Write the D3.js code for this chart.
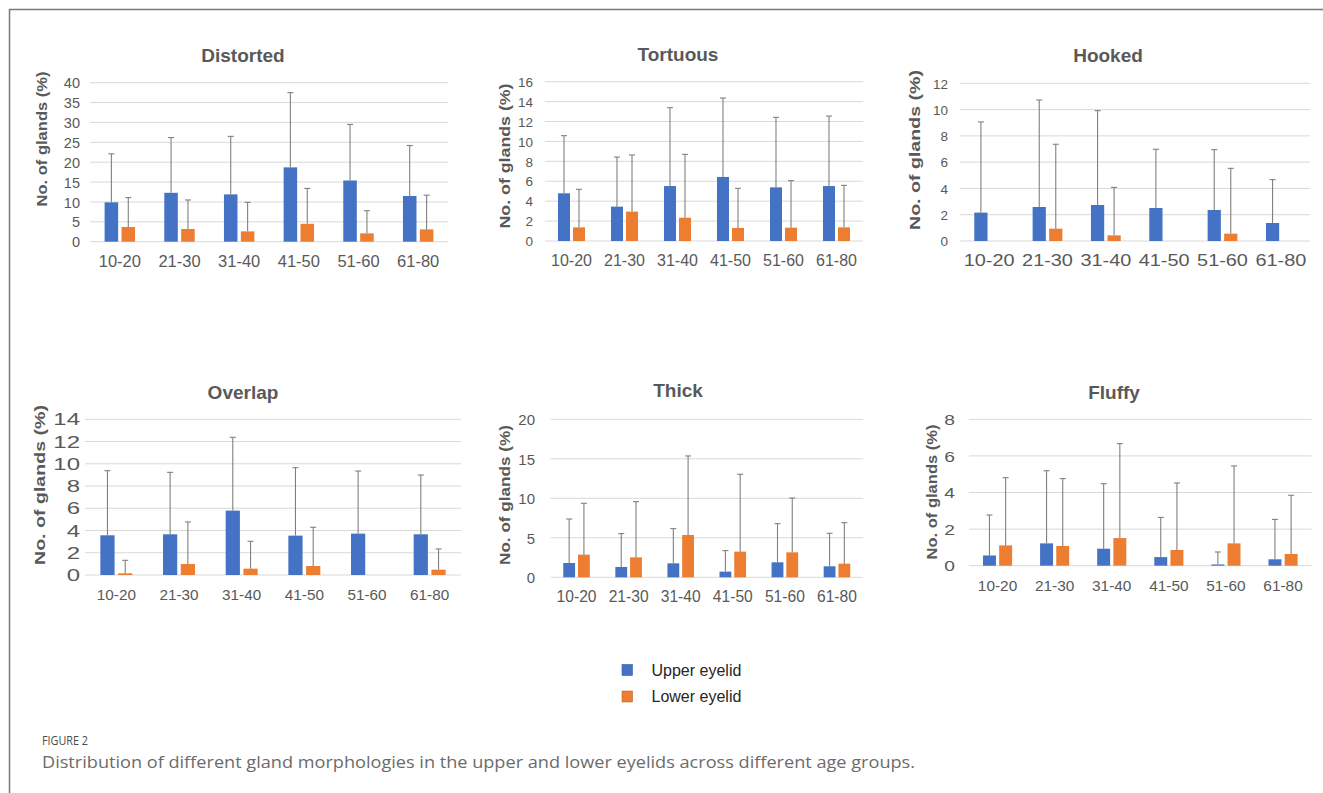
<!DOCTYPE html>
<html>
<head>
<meta charset="utf-8">
<script src="https://cdn.jsdelivr.net/npm/d3@7"></script>
<style>
  body { margin: 0; background: #fff; }
  svg text { font-family: "Liberation Sans", Arial, sans-serif; }
  svg text.caption { font-family: "Open Sans", "Liberation Sans", sans-serif; }
</style>
</head>
<body>
<svg width="1323" height="793"></svg>
<script>
const ageGroups = ["10-20", "21-30", "31-40", "41-50", "51-60", "61-80"];
const morphologies = ["Distorted", "Tortuous", "Hooked", "Overlap", "Thick", "Fluffy"];
const seriesNames = ["Upper eyelid", "Lower eyelid"];
const seriesColors = ["#4472C4", "#ED7D31"];

// one row per morphology, one value per age group (% of glands)
const upperMean = [
  [9.9, 12.3, 11.9, 18.7, 15.4, 11.5],
  [4.79, 3.45, 5.52, 6.43, 5.39, 5.52],
  [2.16, 2.59, 2.74, 2.51, 2.36, 1.37],
  [3.57, 3.66, 5.79, 3.54, 3.72, 3.66],
  [1.81, 1.31, 1.77, 0.72, 1.90, 1.39],
  [0.56, 1.22, 0.93, 0.47, 0.07, 0.35]
];
const upperSD = [
  [12.2, 13.9, 14.6, 18.8, 14.1, 12.7],
  [5.79, 4.98, 7.87, 7.93, 7.03, 7.03],
  [6.90, 8.14, 7.18, 4.47, 4.59, 3.30],
  [5.81, 5.57, 6.59, 6.11, 5.63, 5.33],
  [5.57, 4.22, 4.39, 2.66, 4.89, 4.18],
  [2.21, 3.97, 3.55, 2.17, 0.68, 2.18]
];
const lowerMean = [
  [3.7, 3.2, 2.6, 4.5, 2.1, 3.1],
  [1.37, 2.95, 2.34, 1.31, 1.34, 1.37],
  [0, 0.94, 0.43, 0, 0.56, 0],
  [0.15, 0.99, 0.57, 0.81, 0, 0.48],
  [2.87, 2.53, 5.36, 3.25, 3.16, 1.73],
  [1.11, 1.08, 1.51, 0.86, 1.22, 0.64]
];
const lowerSD = [
  [7.4, 7.3, 7.3, 8.9, 5.7, 8.6],
  [3.82, 5.69, 6.36, 3.98, 4.72, 4.22],
  [0, 6.42, 3.65, 0, 4.97, 0],
  [1.17, 3.78, 2.46, 3.48, 0, 1.86],
  [6.50, 7.05, 10.00, 9.79, 6.88, 5.19],
  [3.70, 3.68, 5.16, 3.66, 4.23, 3.21]
];
const yMax = [40, 16, 12, 14, 20, 8];
const yStep = [5, 2, 2, 2, 5, 2];

// where each small chart sits on the page
const panels = [
  { left: 90, right: 448, top: 82.7, bottom: 241.7, titleX: 243, titleY: 55, labX: 42, labY: 139, labLen: 135, tickRight: 80, tickFont: 14.5, tickSx: 1.0, catFont: 16.5, catSx: 1.0 },
  { left: 545, right: 863, top: 81.7, bottom: 241, titleX: 678, titleY: 54, labX: 505, labY: 156, labLen: 145, tickRight: 533, tickFont: 13.5, tickSx: 1.0, catFont: 16, catSx: 1.0 },
  { left: 960, right: 1310, top: 83.3, bottom: 241, titleX: 1108, titleY: 55, labX: 915, labY: 150, labLen: 160, tickRight: 948, tickFont: 13.5, tickSx: 1.0, catFont: 17, catSx: 1.17 },
  { left: 85, right: 461, top: 419.3, bottom: 575, titleX: 243, titleY: 392, labX: 40, labY: 485, labLen: 160, tickRight: 80, tickFont: 16, tickSx: 1.5, catFont: 15.3, catSx: 1.0 },
  { left: 550.5, right: 863, top: 419.3, bottom: 577.3, titleX: 678, titleY: 390, labX: 505, labY: 495, labLen: 140, tickRight: 535, tickFont: 15, tickSx: 1.0, catFont: 15.6, catSx: 1.0 },
  { left: 969, right: 1311.6, top: 419.3, bottom: 565.7, titleX: 1114, titleY: 392, labX: 932, labY: 492, labLen: 135, tickRight: 955, tickFont: 15, tickSx: 1.28, catFont: 15.4, catSx: 1.0 }
];

const textColor = "#595959";
const svg = d3.select("svg");

// page frame
svg.append("line").attr("x1", 9).attr("x2", 1323).attr("y1", 9.5).attr("y2", 9.5)
  .attr("stroke", "#7a7a7a").attr("stroke-width", 1.5);
svg.append("line").attr("x1", 9.5).attr("x2", 9.5).attr("y1", 9).attr("y2", 793)
  .attr("stroke", "#7a7a7a").attr("stroke-width", 1.5);

panels.forEach((p, i) => {
  const g = svg.append("g");
  const x = d3.scaleBand().domain(ageGroups).range([p.left, p.right]);
  const bw = x.bandwidth();
  const xs = d3.scaleBand().domain([0, 1]).range([bw * 0.245, bw * 0.755]).paddingInner(0.2);
  const y = d3.scaleLinear().domain([0, yMax[i]]).range([p.bottom, p.top]);
  const ticks = d3.range(0, yMax[i] + yStep[i] / 2, yStep[i]);

  // gridlines
  g.append("g").selectAll("line").data(ticks).join("line")
    .attr("x1", p.left).attr("x2", p.right)
    .attr("y1", d => y(d)).attr("y2", d => y(d))
    .attr("stroke", "#d9d9d9").attr("stroke-width", 1);

  // y axis tick labels
  const ya = g.append("g").attr("transform", `translate(${p.tickRight},0)`)
    .call(d3.axisLeft(y).tickValues(ticks).tickSize(0).tickPadding(0).tickFormat(d3.format("d")));
  ya.select(".domain").remove();
  ya.selectAll("text")
    .attr("x", 0).attr("dy", "0.35em")
    .attr("font-size", p.tickFont).attr("fill", textColor)
    .attr("transform", `scale(${p.tickSx},1)`);

  // x axis category labels
  const xa = g.append("g").attr("transform", `translate(0,${p.bottom})`)
    .call(d3.axisBottom(x).tickSize(0).tickPadding(0));
  xa.select(".domain").remove();
  xa.selectAll("text")
    .attr("y", 19.5).attr("dy", "0.35em")
    .attr("font-size", p.catFont).attr("fill", textColor)
    .attr("transform", `scale(${p.catSx},1)`);

  // bars
  const rows = [];
  ageGroups.forEach((a, j) => {
    rows.push({ a: a, s: 0, v: upperMean[i][j], sd: upperSD[i][j] });
    rows.push({ a: a, s: 1, v: lowerMean[i][j], sd: lowerSD[i][j] });
  });
  g.append("g").selectAll("rect").data(rows.filter(d => d.v > 0)).join("rect")
    .attr("x", d => x(d.a) + xs(d.s))
    .attr("width", xs.bandwidth())
    .attr("y", d => y(d.v))
    .attr("height", d => y(0) - y(d.v))
    .attr("fill", d => seriesColors[d.s]);

  // error bars (plus side only)
  const eb = g.append("g").selectAll("g").data(rows.filter(d => d.sd > 0)).join("g")
    .attr("stroke", "#808080").attr("stroke-width", 1.1);
  const cx = d => x(d.a) + xs(d.s) + xs.bandwidth() / 2;
  eb.append("line")
    .attr("x1", cx).attr("x2", cx)
    .attr("y1", d => y(d.v)).attr("y2", d => y(d.v + d.sd));
  eb.append("line")
    .attr("x1", d => cx(d) - 3).attr("x2", d => cx(d) + 3)
    .attr("y1", d => y(d.v + d.sd)).attr("y2", d => y(d.v + d.sd));

  // title
  g.append("text").attr("x", p.titleX).attr("y", p.titleY).attr("dy", "0.35em")
    .attr("text-anchor", "middle").attr("font-size", 19).attr("font-weight", "bold")
    .attr("fill", textColor).text(morphologies[i]);

  // y axis title
  g.append("text")
    .attr("transform", `translate(${p.labX},${p.labY}) rotate(-90)`)
    .attr("text-anchor", "middle").attr("dy", "0.35em")
    .attr("font-size", 15).attr("font-weight", "bold").attr("fill", textColor)
    .attr("textLength", p.labLen).attr("lengthAdjust", "spacingAndGlyphs")
    .text("No. of glands (%)");
});

// legend
const ly = d3.scalePoint().domain(seriesNames).range([670, 696.5]);
const lg = svg.append("g").selectAll("g").data(seriesNames).join("g")
  .attr("transform", d => `translate(622,${ly(d)})`);
lg.append("rect").attr("x", 0).attr("y", -5.5).attr("width", 10.5).attr("height", 11)
  .attr("fill", (d, k) => seriesColors[k])
  .attr("stroke", (d, k) => d3.color(seriesColors[k]).darker(0.6)).attr("stroke-width", 0.6);
lg.append("text").attr("x", 29.5).attr("dy", "0.35em")
  .attr("font-size", 16).attr("fill", "#262626").text(d => d);

// figure caption
svg.append("text").attr("class", "caption").attr("x", 42).attr("y", 740).attr("dy", "0.35em")
  .attr("font-size", 13).attr("fill", "#4a4a4a").attr("textLength", 46).attr("lengthAdjust", "spacingAndGlyphs")
  .text("FIGURE 2");
svg.append("text").attr("class", "caption").attr("x", 42).attr("y", 762).attr("dy", "0.35em")
  .attr("font-size", 16).attr("fill", "#6b6b6b").attr("textLength", 873).attr("lengthAdjust", "spacingAndGlyphs")
  .text("Distribution of different gland morphologies in the upper and lower eyelids across different age groups.");
</script>
</body>
</html>
